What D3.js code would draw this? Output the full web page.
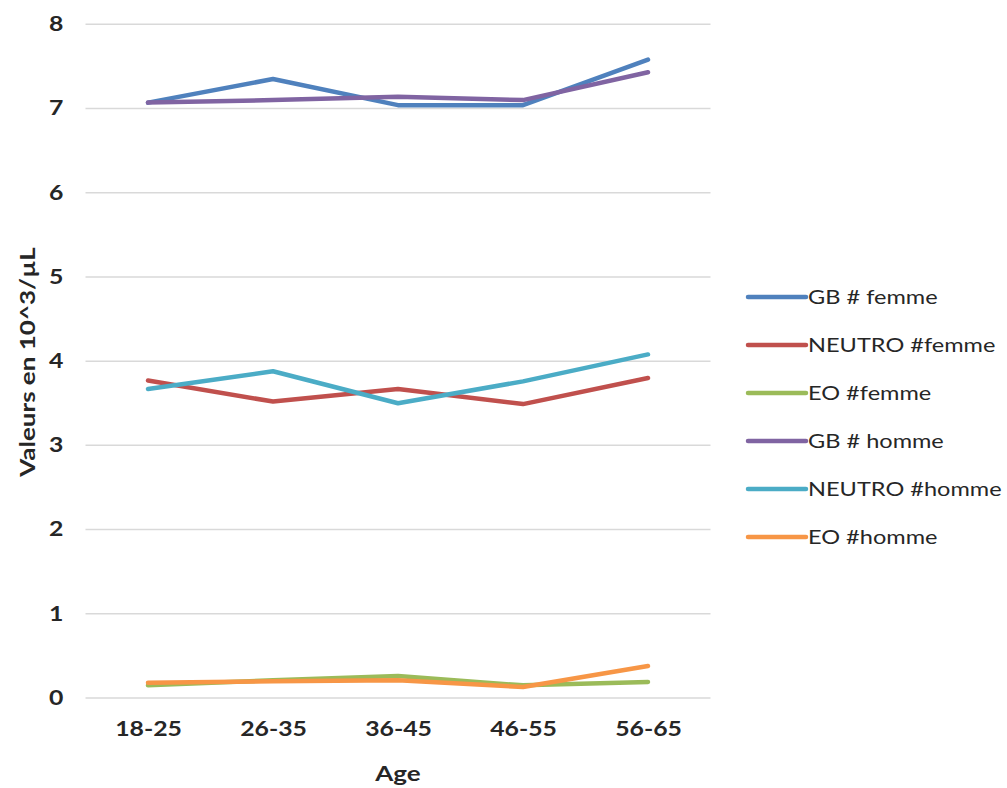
<!DOCTYPE html>
<html>
<head>
<meta charset="utf-8">
<script src="https://cdn.jsdelivr.net/npm/d3@7"></script>
<style>
  html, body { margin: 0; padding: 0; background: #fff; }
  svg { display: block; }
  text { font-family: Lato, "Open Sans", sans-serif; fill: #262626; }
</style>
</head>
<body>
<svg id="chart" width="1007" height="788"></svg>
<script>
// Age groups on the x axis
const ageGroups = ["18-25", "26-35", "36-45", "46-55", "56-65"];
const yTicks = [0, 1, 2, 3, 4, 5, 6, 7, 8];

// Counts in 10^3/µL per age group
const gbFemme     = [7.07, 7.35, 7.04, 7.04, 7.58];
const neutroFemme = [3.77, 3.52, 3.67, 3.49, 3.80];
const eoFemme     = [0.15, 0.21, 0.26, 0.15, 0.19];
const gbHomme     = [7.07, 7.10, 7.14, 7.10, 7.43];
const neutroHomme = [3.67, 3.88, 3.50, 3.76, 4.08];
const eoHomme     = [0.18, 0.20, 0.21, 0.13, 0.38];

const seriesNames  = ["GB # femme", "NEUTRO #femme", "EO #femme", "GB # homme", "NEUTRO #homme", "EO #homme"];
const seriesColors = ["#4F81BD", "#C0504D", "#9BBB59", "#8064A2", "#4BACC6", "#F79646"];
const seriesValues = [gbFemme, neutroFemme, eoFemme, gbHomme, neutroHomme, eoHomme];

const svg = d3.select("#chart");
const plot = { left: 85.5, right: 710.5, top: 24.3, bottom: 698 };
const stretch = 1.24; // wide text face

const x = d3.scalePoint().domain(ageGroups).range([plot.left, plot.right]).padding(0.5);
const y = d3.scaleLinear().domain([0, 8]).range([plot.bottom, plot.top]);

// Horizontal gridlines
svg.append("g")
  .selectAll("line")
  .data(yTicks)
  .join("line")
  .attr("x1", plot.left).attr("x2", plot.right)
  .attr("y1", d => y(d)).attr("y2", d => y(d))
  .attr("stroke", "#d9d9d9").attr("stroke-width", 1.5);

// Y axis tick labels
const yPad = 22;
const yAxis = svg.append("g")
  .attr("transform", `translate(${plot.left},0)`)
  .call(d3.axisLeft(y).tickValues(yTicks).tickFormat(d3.format("d")).tickSize(0).tickPadding(yPad));
yAxis.select(".domain").remove();
yAxis.selectAll("text")
  .attr("x", -yPad / stretch)
  .attr("transform", `scale(${stretch},1)`)
  .attr("font-family", "Lato, sans-serif")
  .attr("font-size", 20).attr("font-weight", "bold").attr("fill", "#262626");

// X axis tick labels
const xAxis = svg.append("g")
  .attr("transform", `translate(0,${plot.bottom})`)
  .call(d3.axisBottom(x).tickSize(0).tickPadding(24));
xAxis.select(".domain").remove();
xAxis.selectAll("text")
  .attr("transform", `scale(${stretch},1)`)
  .attr("font-family", "Lato, sans-serif")
  .attr("font-size", 20).attr("font-weight", "bold").attr("fill", "#262626");

// Axis titles
svg.append("text")
  .attr("transform", `translate(${(plot.left + plot.right) / 2},781) scale(1.3,1)`)
  .attr("text-anchor", "middle")
  .attr("font-size", 20).attr("font-weight", "bold")
  .text("Age");

svg.append("text")
  .attr("transform", "translate(35,362) rotate(-90) scale(1.3,1)")
  .attr("text-anchor", "middle")
  .attr("font-size", 20).attr("font-weight", "bold")
  .text("Valeurs en 10^3/µL");

// Series lines
const line = d3.line()
  .x((d, i) => x(ageGroups[i]))
  .y(d => y(d));

svg.append("g")
  .selectAll("path")
  .data(seriesValues)
  .join("path")
  .attr("d", d => line(d))
  .attr("fill", "none")
  .attr("stroke", (d, i) => seriesColors[i])
  .attr("stroke-width", 4.5)
  .attr("stroke-linejoin", "round")
  .attr("stroke-linecap", "round");

// Legend
const legend = svg.append("g")
  .selectAll("g")
  .data(seriesNames)
  .join("g")
  .attr("transform", (d, i) => `translate(748,${297 + i * 48})`);

legend.append("line")
  .attr("x1", 0).attr("x2", 58)
  .attr("stroke", (d, i) => seriesColors[i])
  .attr("stroke-width", 4.5)
  .attr("stroke-linecap", "round");

legend.append("text")
  .attr("transform", "translate(60,0) scale(1.24,1)")
  .attr("dy", "0.35em")
  .attr("font-size", 19)
  .text(d => d);
</script>
</body>
</html>
